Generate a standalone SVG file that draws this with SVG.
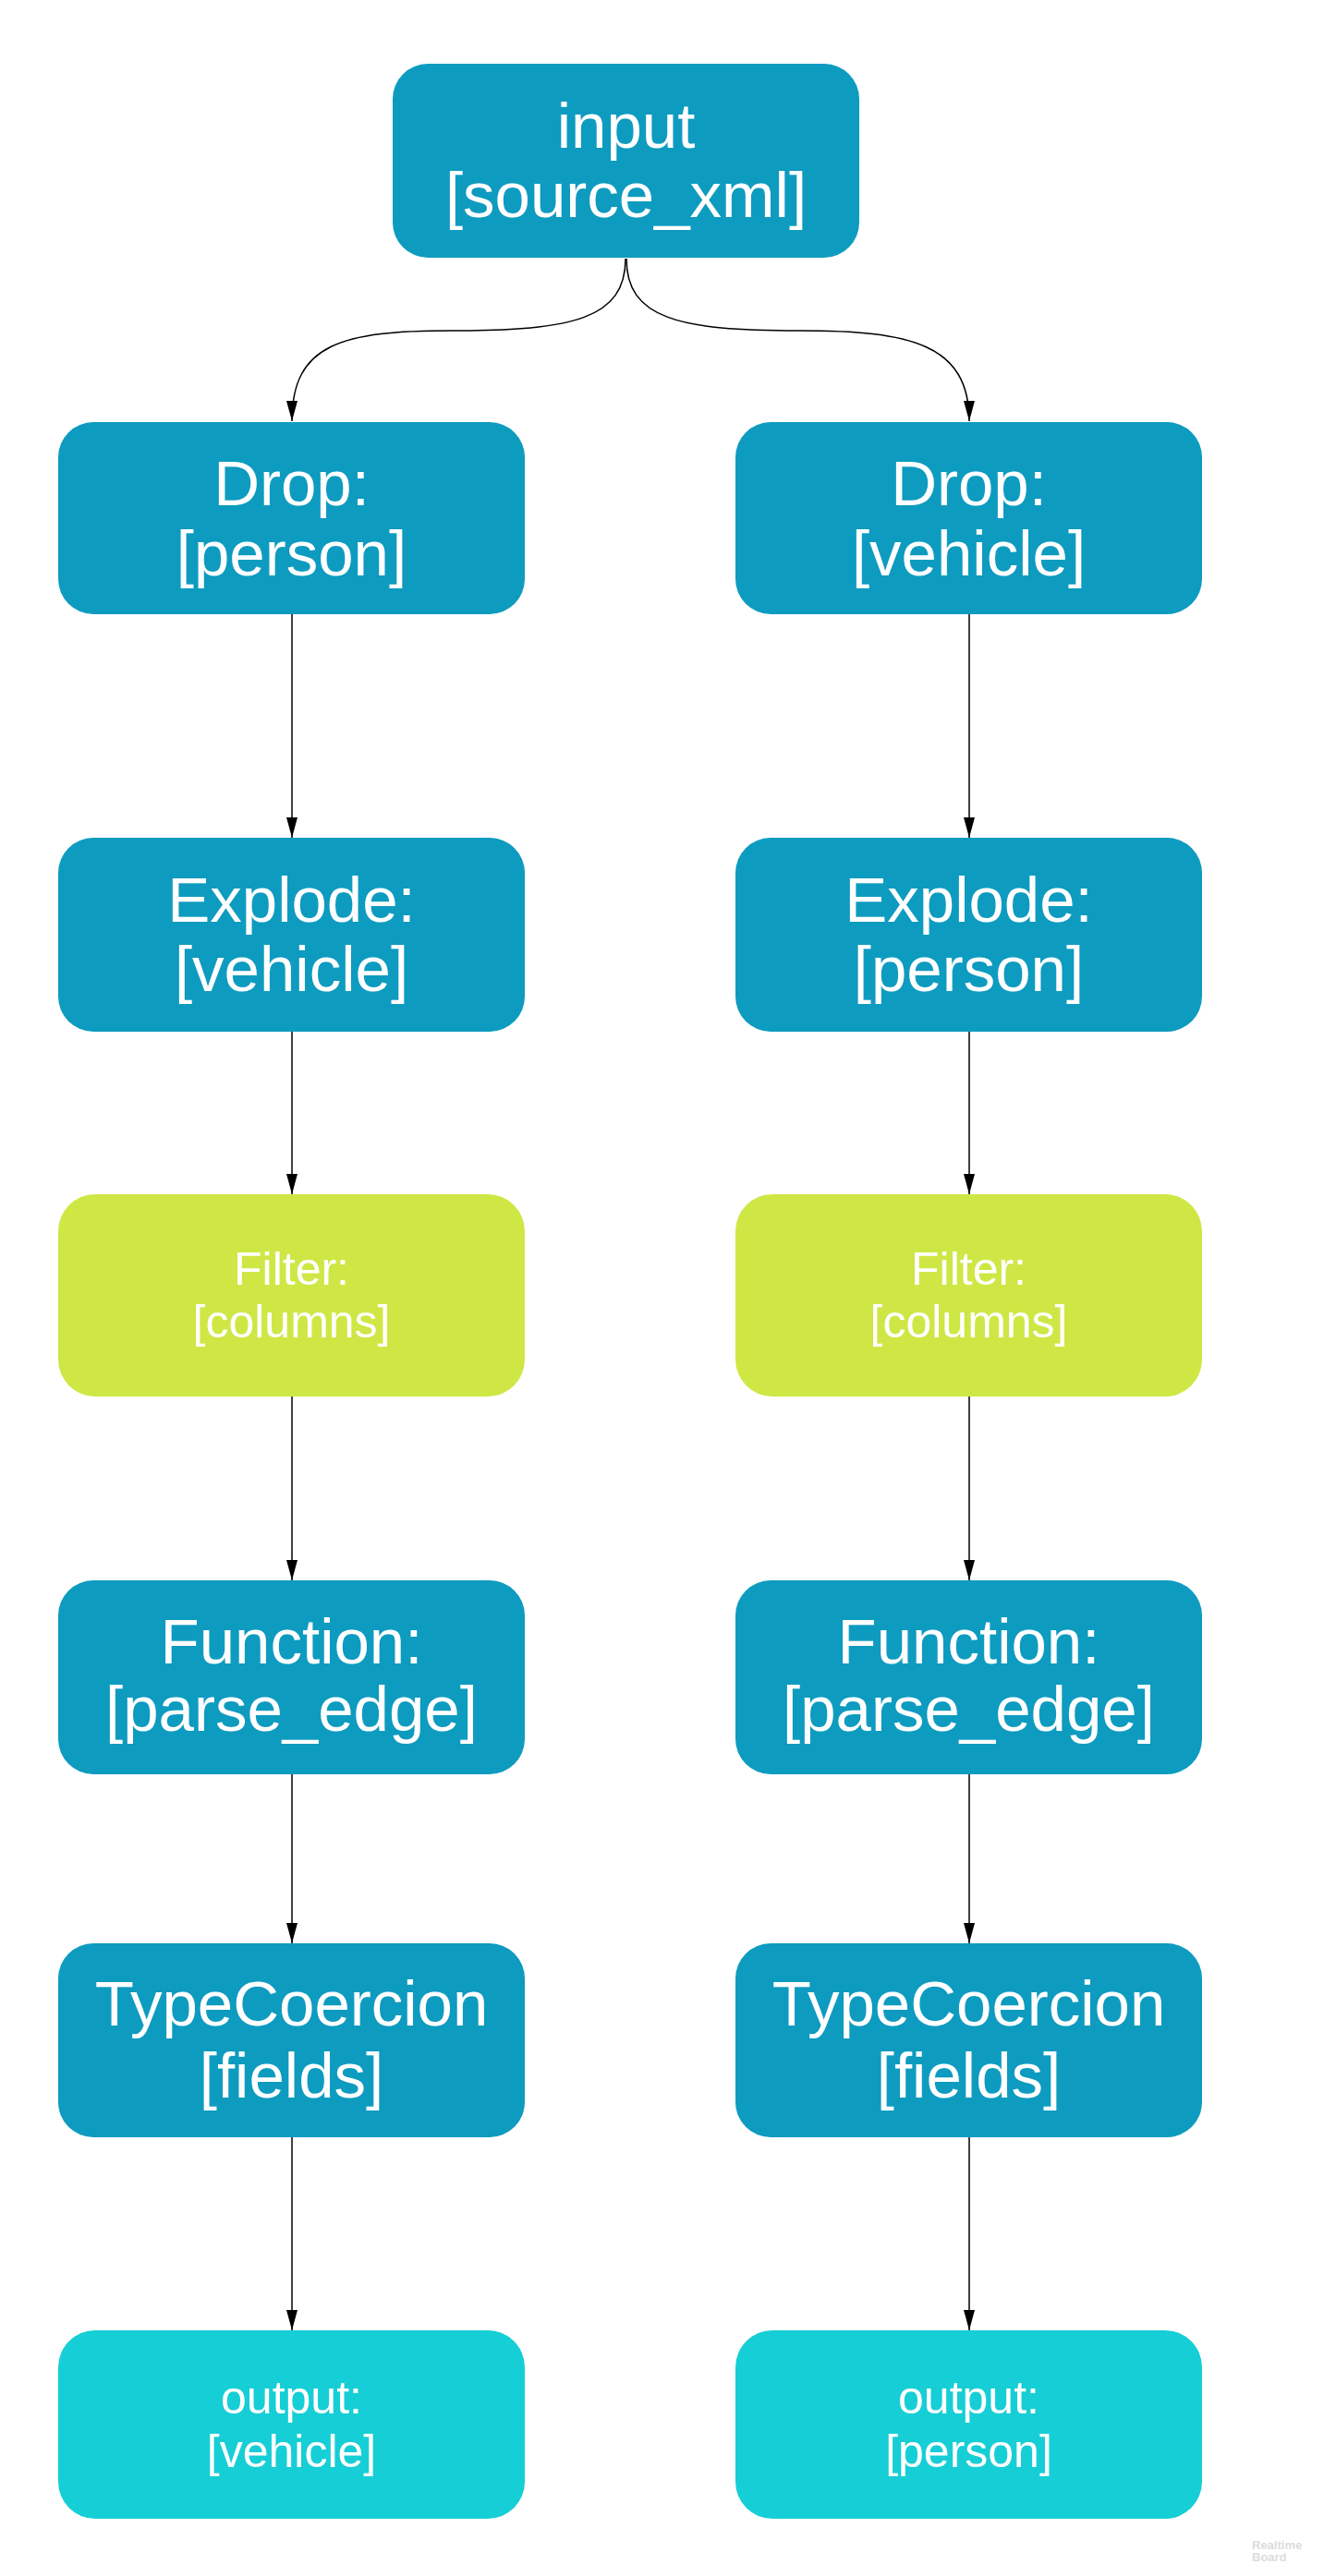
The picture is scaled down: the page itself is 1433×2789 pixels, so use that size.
<svg xmlns="http://www.w3.org/2000/svg" width="1433" height="2789" viewBox="0 0 1433 2789">
<style>
.blue{fill:#0E9BC0}
.lime{fill:#CFE745}
.cyan{fill:#16CED6}
text{font-family:"Liberation Sans",Arial,sans-serif;fill:#ffffff;text-anchor:middle}
.big{font-size:69px}
.small{font-size:50px}
.edge{fill:none;stroke:#000;stroke-width:1.5;marker-end:url(#arr)}
.wm{font-size:13px;font-weight:bold;fill:#dcdcdc;text-anchor:start}
</style>
<defs>
<marker id="arr" markerUnits="userSpaceOnUse" markerWidth="22" markerHeight="12" viewBox="0 0 22 12" refX="22" refY="6" orient="auto">
<path d="M0,0 L22,6 L0,12 Z" fill="#000"/>
</marker>
</defs>
<rect width="1433" height="2789" fill="#ffffff"/>
<g id="connectors">
<path class="edge" d="M677,280 C677,345 620,358 490,358 C370,358 316,372 316,456"/>
<path class="edge" d="M678,280 C678,345 735,358 865,358 C985,358 1049,372 1049,456"/>
<path class="edge" d="M316,665 L316,907"/>
<path class="edge" d="M316,1117 L316,1293"/>
<path class="edge" d="M316,1512 L316,1711"/>
<path class="edge" d="M316,1921 L316,2104"/>
<path class="edge" d="M316,2314 L316,2523"/>
<path class="edge" d="M1049,665 L1049,907"/>
<path class="edge" d="M1049,1117 L1049,1293"/>
<path class="edge" d="M1049,1512 L1049,1711"/>
<path class="edge" d="M1049,1921 L1049,2104"/>
<path class="edge" d="M1049,2314 L1049,2523"/>
</g>
<g id="input">
<rect class="blue" x="425" y="69" width="505" height="210" rx="38"/>
<text class="big" x="677.5" y="160">input</text>
<text class="big" x="677.5" y="235">[source_xml]</text>
</g>
<g id="drop-person">
<rect class="blue" x="63" y="457" width="505" height="208" rx="38"/>
<text class="big" x="315.5" y="547">Drop:</text>
<text class="big" x="315.5" y="623">[person]</text>
</g>
<g id="drop-vehicle">
<rect class="blue" x="796" y="457" width="505" height="208" rx="38"/>
<text class="big" x="1048.5" y="547">Drop:</text>
<text class="big" x="1048.5" y="623">[vehicle]</text>
</g>
<g id="explode-vehicle">
<rect class="blue" x="63" y="907" width="505" height="210" rx="38"/>
<text class="big" x="315.5" y="998">Explode:</text>
<text class="big" x="315.5" y="1073">[vehicle]</text>
</g>
<g id="explode-person">
<rect class="blue" x="796" y="907" width="505" height="210" rx="38"/>
<text class="big" x="1048.5" y="998">Explode:</text>
<text class="big" x="1048.5" y="1073">[person]</text>
</g>
<g id="filter-left">
<rect class="lime" x="63" y="1293" width="505" height="219" rx="40"/>
<text class="small" x="315.5" y="1391">Filter:</text>
<text class="small" x="315.5" y="1448">[columns]</text>
</g>
<g id="filter-right">
<rect class="lime" x="796" y="1293" width="505" height="219" rx="40"/>
<text class="small" x="1048.5" y="1391">Filter:</text>
<text class="small" x="1048.5" y="1448">[columns]</text>
</g>
<g id="function-left">
<rect class="blue" x="63" y="1711" width="505" height="210" rx="38"/>
<text class="big" x="315.5" y="1801">Function:</text>
<text class="big" x="315.5" y="1874">[parse_edge]</text>
</g>
<g id="function-right">
<rect class="blue" x="796" y="1711" width="505" height="210" rx="38"/>
<text class="big" x="1048.5" y="1801">Function:</text>
<text class="big" x="1048.5" y="1874">[parse_edge]</text>
</g>
<g id="typecoercion-left">
<rect class="blue" x="63" y="2104" width="505" height="210" rx="38"/>
<text class="big" x="315.5" y="2193">TypeCoercion</text>
<text class="big" x="315.5" y="2271">[fields]</text>
</g>
<g id="typecoercion-right">
<rect class="blue" x="796" y="2104" width="505" height="210" rx="38"/>
<text class="big" x="1048.5" y="2193">TypeCoercion</text>
<text class="big" x="1048.5" y="2271">[fields]</text>
</g>
<g id="output-vehicle">
<rect class="cyan" x="63" y="2523" width="505" height="204" rx="40"/>
<text class="small" x="315.5" y="2613">output:</text>
<text class="small" x="315.5" y="2671">[vehicle]</text>
</g>
<g id="output-person">
<rect class="cyan" x="796" y="2523" width="505" height="204" rx="40"/>
<text class="small" x="1048.5" y="2613">output:</text>
<text class="small" x="1048.5" y="2671">[person]</text>
</g>
<g id="watermark">
<text class="wm" x="1355" y="2760">Realtime</text>
<text class="wm" x="1355" y="2773">Board</text>
</g>
</svg>
